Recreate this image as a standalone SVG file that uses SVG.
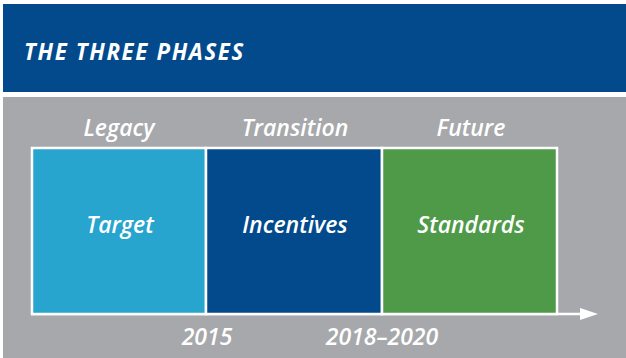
<svg xmlns="http://www.w3.org/2000/svg" width="626" height="358" viewBox="0 0 626 358">
<defs>
<style>
.t{font-family:"Open Sans","Liberation Sans",sans-serif;font-style:italic;font-weight:600;fill:#ffffff;text-anchor:middle;font-size:23px}
.box{stroke:#ffffff;stroke-width:2.5}
</style>
</defs>
<rect x="0" y="0" width="626" height="358" fill="#ffffff"/>
<g id="header">
<rect x="3" y="4" width="623" height="88" fill="#024a8c"/>
<text x="24" y="60" font-family="Open Sans, Liberation Sans, sans-serif" font-style="italic" font-weight="700" font-size="24" letter-spacing="1.8" textLength="221" lengthAdjust="spacingAndGlyphs" fill="#ffffff">THE THREE PHASES</text>
</g>
<rect x="3" y="97" width="623" height="261" fill="#a7a8ab"/>
<g id="connectors">
<line x1="31" y1="314" x2="582" y2="314" stroke="#ffffff" stroke-width="2.5"/>
<polygon points="580,308 598,314 580,320" fill="#ffffff"/>
</g>
<g id="legacy">
<rect class="box" x="32" y="148" width="174" height="166" fill="#27a5cf"/>
<text class="t" x="119" y="136">Legacy</text>
<text class="t" x="120" y="233">Target</text>
</g>
<g id="transition">
<rect class="box" x="206" y="148" width="176" height="166" fill="#024a8c"/>
<text class="t" x="295" y="136">Transition</text>
<text class="t" x="295" y="233">Incentives</text>
</g>
<g id="future">
<rect class="box" x="382" y="148" width="175" height="166" fill="#4e9a48"/>
<text class="t" x="471" y="136">Future</text>
<text class="t" x="471" y="233">Standards</text>
</g>
<g id="years">
<text class="t" x="207" y="345">2015</text>
<text class="t" x="382" y="345">2018–2020</text>
</g>
</svg>
